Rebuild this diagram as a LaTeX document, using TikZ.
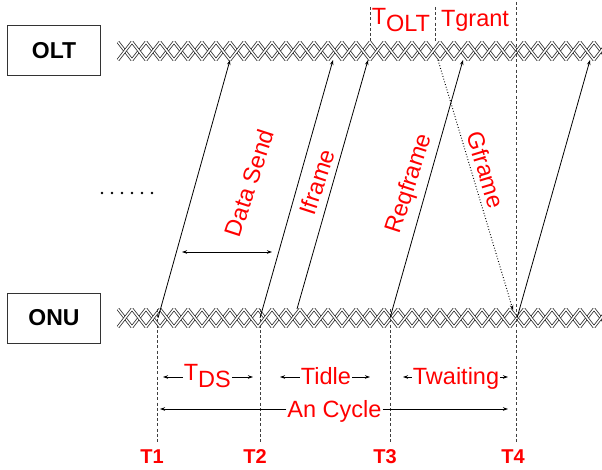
\documentclass[tikz,border=0pt]{standalone}
\usepackage{fontspec}
\setmainfont{Liberation Sans}
\usetikzlibrary{arrows.meta}
\newcommand{\mychain}[1]{%
  \begin{scope}
    \clip (116,#1-0.5) rectangle (604,#1+18.5);
    \draw[strand] (118,#1) \foreach \k in {1,...,36} { -- ({118+14*\k},{#1+18*mod(\k,2)}) };
    \draw[strand] (118,#1+18) \foreach \k in {1,...,36} { -- ({118+14*\k},{#1+18-18*mod(\k,2)}) };
  \end{scope}}
\begin{document}
\begin{tikzpicture}[x=1pt,y=-1pt,
  lbl/.style={text=red, font=\fontsize{23.5}{28}\selectfont, inner sep=1pt},
  tlbl/.style={text=red, font=\bfseries\fontsize{20}{24}\selectfont, inner sep=0pt},
  box/.style={draw=black!80, line width=0.8pt, minimum width=93pt, minimum height=50pt, font=\bfseries\fontsize{23}{27}\selectfont},
  arr/.style={line width=0.8pt, -{Stealth[length=5pt,width=3.5pt]}},
  tdashed/.style={line width=0.8pt, black!75, dash pattern=on 3pt off 2.2pt},
  strand/.style={line width=0.75pt, draw=black!85, double=white, double distance=1.5pt, line join=miter},
]
\useasboundingbox (0,0) rectangle (602,470);

% boxes
\node[box] (olt) at (54,50.5) {OLT};
\node[box] (onu) at (54,318) {ONU};

% chains
\mychain{42}
\mychain{309}

% dots
\foreach \i in {0,...,5} \fill (102+10*\i,193) circle (1.3pt);

% coordinates
\coordinate (s1) at (158,318); \coordinate (e1) at (230,60);
\coordinate (s2) at (260,318); \coordinate (e2) at (333,60);
\coordinate (s3) at (297,309); \coordinate (e3) at (368,60);
\coordinate (s4) at (390,318); \coordinate (e4) at (463,60);
\coordinate (s5) at (517,318); \coordinate (e5) at (590,60);
\coordinate (g1) at (438,60);  \coordinate (g2) at (513,310);
\coordinate (ds1) at (182,252); \coordinate (ds2) at (272,252);

% dashed verticals
\coordinate (d1a) at (157,309); \coordinate (d1b) at (157,443);
\coordinate (d2a) at (260,309); \coordinate (d2b) at (260,443);
\coordinate (d3a) at (390,309); \coordinate (d3b) at (390,443);
\coordinate (d4a) at (516,2);   \coordinate (d4b) at (516,443);
\coordinate (d5a) at (370,7);   \coordinate (d5b) at (370,42);
\coordinate (d6a) at (435,7);   \coordinate (d6b) at (435,42);
\foreach \n in {1,...,6} \draw[tdashed] (d\n a) -- (d\n b);

% transmissions
\foreach \n in {1,...,5} \draw[arr] (s\n) -- (e\n);
\draw[arr, dotted, line width=1pt] (g1) -- (g2);
\draw[line width=0.8pt, {Stealth[length=5pt,width=3.5pt]}-{Stealth[length=5pt,width=3.5pt]}] (ds1) -- (ds2);

% rotated labels
\node[lbl, rotate=72] (datasend) at (249,183) {Data Send};
\node[lbl, rotate=72] (iframe) at (317,182) {Iframe};
\node[lbl, rotate=72] (reqframe) at (410,184) {Reqframe};
\node[lbl, rotate=-73] (gframe) at (486,170) {Gframe};

% top labels
\node[lbl, anchor=base] (toltT) at (379,25) {T};
\node[lbl, anchor=base] (tolt) at (408,32) {OLT};
\node[lbl, anchor=base] (tgrant) at (475,27) {Tgrant};

% row 1
\node[lbl, anchor=base] (tdsT) at (191,380) {T};
\node[lbl, anchor=base] (tdsDS) at (214.5,387) {DS};
\coordinate (tdsL) at (163,377); \coordinate (tdsR) at (253,377);
\draw[arr] (tdsT.west |- tdsL) -- (tdsL);
\draw[arr] (tdsDS.east |- tdsR) -- (tdsR);

\node[lbl, anchor=base] (tidle) at (326,384) {Tidle};
\coordinate (tidleL) at (280,377); \coordinate (tidleR) at (370,377);
\draw[arr] (tidle.west |- tidleL) -- (tidleL);
\draw[arr] (tidle.east |- tidleR) -- (tidleR);

\node[lbl, anchor=base] (twait) at (456,384) {Twaiting};
\coordinate (twaitL) at (403,377); \coordinate (twaitR) at (508,377);
\draw[arr] (twait.west |- twaitL) -- (twaitL);
\draw[arr] (twait.east |- twaitR) -- (twaitR);

% row 2
\node[lbl, anchor=base] (cycle) at (334.5,417) {An Cycle};
\coordinate (cycL) at (160,409); \coordinate (cycR) at (508,409);
\draw[arr] (cycle.west |- cycL) -- (cycL);
\draw[arr] (cycle.east |- cycR) -- (cycR);

% time marks
\node[tlbl, anchor=base] (t1) at (152,463) {T1};
\node[tlbl, anchor=base] (t2) at (255,463) {T2};
\node[tlbl, anchor=base] (t3) at (385,463) {T3};
\node[tlbl, anchor=base] (t4) at (513,463) {T4};
\end{tikzpicture}
\end{document}
